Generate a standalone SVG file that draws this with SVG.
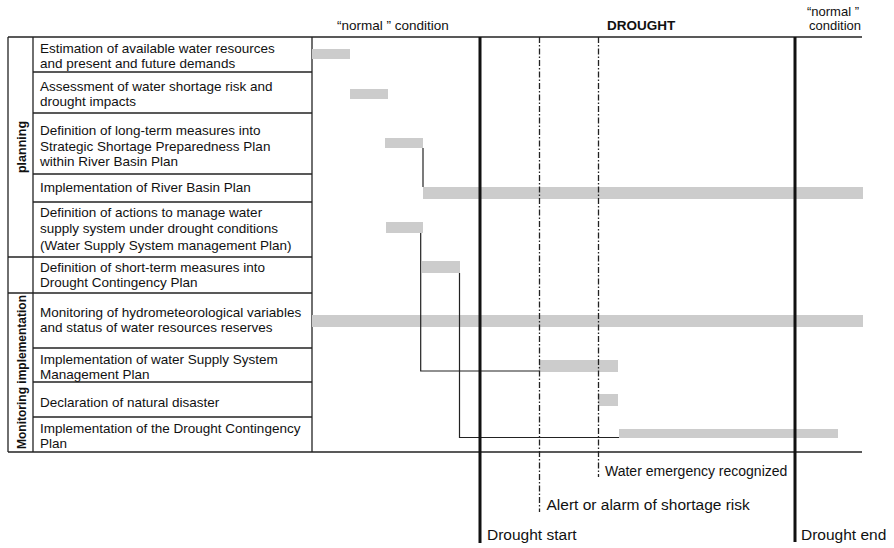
<svg xmlns="http://www.w3.org/2000/svg" width="894" height="548" viewBox="0 0 894 548">
<style>
text{font-family:"Liberation Sans",Arial,Helvetica,sans-serif;fill:#111}
.t{font-size:13.5px}
.b{font-weight:bold}
.lab{font-size:15.5px}
.grid{stroke:#222;stroke-width:1.3;fill:none}
.bar{fill:#cccccc}
.con{stroke:#222;stroke-width:1.2;fill:none}
.thick{stroke:#111;stroke-width:3;fill:none}
.dd{stroke:#222;stroke-width:1.3;fill:none;stroke-dasharray:6 2 1.5 2}
</style>
<rect width="894" height="548" fill="#fff"/>
<g id="header">
<text class="t" x="337" y="30">“normal ” condition</text>
<text class="t b" x="607" y="30">DROUGHT</text>
<text font-size="13" x="859" y="16" text-anchor="end">“normal ”</text>
<text font-size="13" x="861" y="30" text-anchor="end">condition</text>
</g>
<g id="frame">
<line class="grid" x1="8" y1="37" x2="862" y2="37"/>
<line class="grid" x1="8" y1="452" x2="862" y2="452"/>
<line class="grid" x1="8" y1="37" x2="8" y2="452"/>
<line class="grid" x1="33" y1="37" x2="33" y2="452"/>
<line class="grid" x1="312" y1="37" x2="312" y2="452"/>
<line class="grid" x1="33" y1="72" x2="312" y2="72"/>
<line class="grid" x1="33" y1="113" x2="312" y2="113"/>
<line class="grid" x1="33" y1="174" x2="312" y2="174"/>
<line class="grid" x1="33" y1="202" x2="312" y2="202"/>
<line class="grid" x1="8" y1="257" x2="312" y2="257"/>
<line class="grid" x1="8" y1="293" x2="312" y2="293"/>
<line class="grid" x1="33" y1="348" x2="312" y2="348"/>
<line class="grid" x1="33" y1="382" x2="312" y2="382"/>
<line class="grid" x1="33" y1="417" x2="312" y2="417"/>
</g>
<g id="group-planning">
<text class="b" font-size="12.5" transform="translate(25.5,147) rotate(-90)" text-anchor="middle">planning</text>
</g>
<g id="group-monitoring">
<text class="b" font-size="12" transform="translate(25.5,372) rotate(-90)" text-anchor="middle">Monitoring implementation</text>
</g>
<g id="row1">
<text class="t" x="40" y="53">Estimation of available water resources</text>
<text class="t" x="40" y="68">and present and future demands</text>
<rect class="bar" x="312" y="49" width="38" height="10"/>
</g>
<g id="row2">
<text class="t" x="40" y="90.5">Assessment of water shortage risk and</text>
<text class="t" x="40" y="106">drought impacts</text>
<rect class="bar" x="350" y="89" width="38" height="10"/>
</g>
<g id="row3">
<text class="t" x="40" y="135">Definition of long-term measures into</text>
<text class="t" x="40" y="150.5">Strategic Shortage Preparedness Plan</text>
<text class="t" x="40" y="166">within River Basin Plan</text>
<rect class="bar" x="385" y="138" width="38" height="10"/>
</g>
<g id="row4">
<text class="t" x="40" y="191.5">Implementation of River Basin Plan</text>
<rect class="bar" x="423" y="187" width="440" height="12"/>
</g>
<g id="row5">
<text class="t" x="40" y="216.5">Definition of actions to manage water</text>
<text class="t" x="40" y="233">supply system under drought conditions</text>
<text class="t" x="40" y="249.5">(Water Supply System management Plan)</text>
<rect class="bar" x="386" y="222" width="37" height="11"/>
</g>
<g id="row6">
<text class="t" x="40" y="271.5">Definition of short-term measures into</text>
<text class="t" x="40" y="287">Drought Contingency Plan</text>
<rect class="bar" x="422" y="261" width="38" height="12"/>
</g>
<g id="row7">
<text class="t" x="40" y="316.5">Monitoring of hydrometeorological variables</text>
<text class="t" x="40" y="331.5">and status of water resources reserves</text>
<rect class="bar" x="312" y="315" width="551" height="12"/>
</g>
<g id="row8">
<text class="t" x="40" y="364">Implementation of water Supply System</text>
<text class="t" x="40" y="379">Management Plan</text>
<rect class="bar" x="539" y="360" width="79" height="12"/>
</g>
<g id="row9">
<text class="t" x="40" y="407">Declaration of natural disaster</text>
<rect class="bar" x="598" y="394" width="20" height="12"/>
</g>
<g id="row10">
<text class="t" x="40" y="433">Implementation of the Drought Contingency</text>
<text class="t" x="40" y="447.5">Plan</text>
<rect class="bar" x="619" y="429" width="219" height="9"/>
</g>
<g id="connectors">
<polyline class="con" points="423,148 423,187"/>
<polyline class="con" points="420.7,233 420.7,371 539,371"/>
<polyline class="con" points="459.5,273 459.5,437.5 619,437.5"/>
</g>
<g id="milestones">
<line class="thick" x1="480" y1="37" x2="480" y2="543"/>
<line class="thick" x1="795" y1="37" x2="795" y2="542"/>
<line class="dd" x1="539.5" y1="37" x2="539.5" y2="512"/>
<line class="dd" x1="598.5" y1="37" x2="598.5" y2="477"/>
<text font-size="14" x="605" y="476">Water emergency recognized</text>
<text class="lab" x="546.5" y="510">Alert or alarm of shortage risk</text>
<text class="lab" x="487" y="540">Drought start</text>
<text class="lab" x="801" y="540" font-size="15.3">Drought end</text>
</g>
</svg>
